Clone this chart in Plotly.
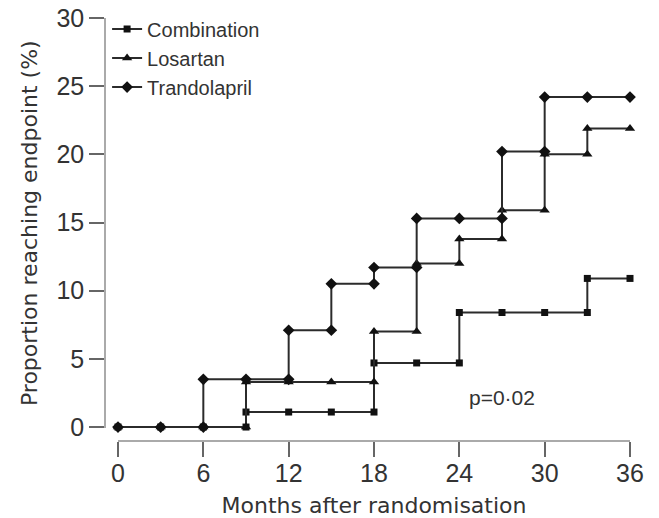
import plotly.graph_objects as go

# Data (step points include both pre- and post-jump values)
combination_months = [0, 3, 6, 9, 9, 12, 15, 18, 18, 21, 24, 24, 27, 30, 33, 33, 36]
combination_pct = [0, 0, 0, 0, 1.1, 1.1, 1.1, 1.1, 4.7, 4.7, 4.7, 8.4, 8.4, 8.4, 8.4, 10.9, 10.9]

losartan_months = [0, 3, 6, 9, 9, 12, 15, 18, 18, 21, 21, 24, 24, 27, 27, 30, 30, 33, 33, 36]
losartan_pct = [0, 0, 0, 0, 3.3, 3.3, 3.3, 3.3, 7.0, 7.0, 12.0, 12.0, 13.8, 13.8, 15.9, 15.9,
                20.0, 20.0, 21.9, 21.9]

trandolapril_months = [0, 3, 6, 6, 9, 12, 12, 15, 15, 18, 18, 21, 21, 24, 27, 27, 30, 30, 33, 36]
trandolapril_pct = [0, 0, 0, 3.5, 3.5, 3.5, 7.1, 7.1, 10.5, 10.5, 11.7, 11.7, 15.3, 15.3, 15.3,
                    20.2, 20.2, 24.2, 24.2, 24.2]

x_ticks = [0, 6, 12, 18, 24, 30, 36]
y_ticks = [0, 5, 10, 15, 20, 25, 30]

p_label = "p=0·02"
p_pos = (27, 2.2)

LINE = "#2b2b2b"
MARK = "#111111"

fig = go.Figure()
series = [
    ("Combination", combination_months, combination_pct, "square", 7),
    ("Losartan", losartan_months, losartan_pct, "triangle-up", 9),
    ("Trandolapril", trandolapril_months, trandolapril_pct, "diamond", 9),
]
for name, xs, ys, sym, size in series:
    fig.add_trace(go.Scatter(
        x=xs, y=ys, name=name, mode="lines+markers",
        line=dict(color=LINE, width=2),
        marker=dict(symbol=sym, size=size, color=MARK, line=dict(width=0)),
        cliponaxis=False,
    ))

fig.add_annotation(
    x=p_pos[0], y=p_pos[1], text=p_label, showarrow=False,
    font=dict(family="Liberation Sans, Arial, sans-serif", size=21, color="#333"),
    xanchor="center", yanchor="middle",
)

# full window size; the page body margin is removed by the post script below
W, H = 659, 518
L, R, T, B = 105, 29, 18, 77
pw = W - L - R
ph = H - T - B

fig.update_layout(
    width=W, height=H,
    margin=dict(l=L, r=R, t=T, b=B, pad=0, autoexpand=False),
    paper_bgcolor="white", plot_bgcolor="white",
    showlegend=True,
    legend=dict(
        x=0.004, y=1.02, xanchor="left", yanchor="top",
        font=dict(family="Liberation Sans, Arial, sans-serif", size=20, color="#333"),
        bgcolor="rgba(0,0,0,0)", borderwidth=0, tracegroupgap=0,
    ),
    xaxis=dict(
        range=[0, 36], domain=[13 / pw, 1], anchor="free", position=0,
        automargin=False, ticklabeloverflow="allow",
        tickmode="array", tickvals=x_ticks, ticktext=[str(v) for v in x_ticks],
        ticks="outside", ticklen=15, tickwidth=2, tickcolor="#666",
        ticklabelstandoff=-5,
        showline=True, linecolor="#aaa", linewidth=1.5,
        showgrid=False, zeroline=False,
        tickfont=dict(family="Liberation Sans, Arial, sans-serif", size=25, color="#333"),
        title=dict(text="Months after randomisation", standoff=19,
                   font=dict(family="DejaVu Sans, sans-serif", size=22, color="#333")),
    ),
    yaxis=dict(
        range=[-0.1, 30], domain=[12.6 / ph, 1], anchor="free", position=0,
        automargin=False, ticklabeloverflow="allow",
        tickmode="array", tickvals=y_ticks, ticktext=[str(v) for v in y_ticks],
        ticks="outside", ticklen=15, tickwidth=2, tickcolor="#666",
        showline=True, linecolor="#aaa", linewidth=1.5,
        showgrid=False, zeroline=False,
        tickfont=dict(family="Liberation Sans, Arial, sans-serif", size=25, color="#333"),
        title=dict(text="Proportion reaching endpoint (%)", standoff=12,
                   font=dict(family="DejaVu Sans, sans-serif", size=22, color="#333")),
    ),
)

fig.write_html(
    "out.html",
    config={"displayModeBar": False},
    post_script="document.body.style.margin='0';document.body.style.overflow='hidden';",
)
